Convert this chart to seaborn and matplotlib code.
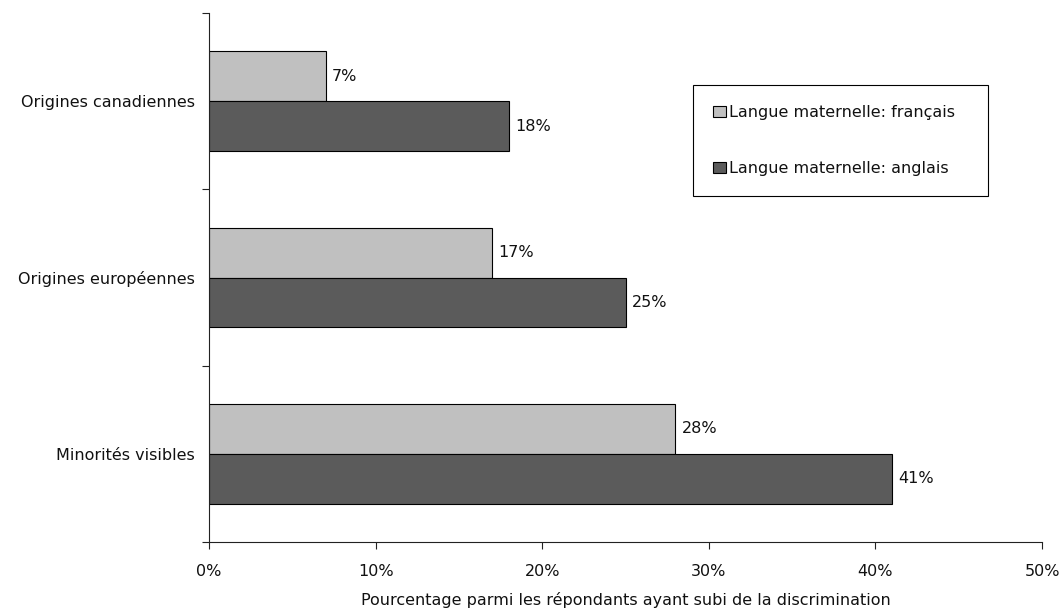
import matplotlib
matplotlib.use("Agg")
import matplotlib.pyplot as plt
import seaborn as sns
import pandas as pd
from matplotlib.ticker import FixedLocator, PercentFormatter

categories = ["Origines canadiennes", "Origines européennes", "Minorités visibles"]
series_names = ["Langue maternelle: français", "Langue maternelle: anglais"]
francais = [7, 17, 28]
anglais = [18, 25, 41]
x_ticks = [0, 10, 20, 30, 40, 50]
x_label = "Pourcentage parmi les répondants ayant subi de la discrimination"
colors = ["#C0C0C0", "#5B5B5B"]

df = pd.DataFrame({
    "categorie": categories * 2,
    "serie": [series_names[0]] * 3 + [series_names[1]] * 3,
    "valeur": francais + anglais,
})

sns.set_style("white")
plt.rcParams["font.family"] = ["DejaVu Sans"]
FS = 11.5
plt.rcParams.update({
    "font.size": FS,
    "text.color": "#111111",
    "axes.labelcolor": "#111111",
    "xtick.color": "#222222",
    "ytick.color": "#222222",
    "xtick.labelcolor": "#111111",
    "ytick.labelcolor": "#111111",
})

W, H = 1062, 610
fig = plt.figure(figsize=(W / 100, H / 100), dpi=100)
ax = fig.add_axes([209 / W, 1 - 542 / H, (1042 - 209) / W, (542 - 13) / H])

sns.barplot(data=df, x="valeur", y="categorie", hue="serie", order=categories,
            hue_order=series_names, palette=colors, orient="h", width=0.567,
            edgecolor="black", linewidth=0.8, saturation=1, ax=ax)

for cont in ax.containers:
    ax.bar_label(cont, labels=[f"{int(round(b.get_width()))}%" for b in cont],
                 padding=4.5, fontsize=FS, color="#111111")

ax.set_xlim(0, 50)
ax.set_ylim(2.5, -0.5)
ax.set_xticks(x_ticks)
ax.xaxis.set_major_formatter(PercentFormatter(decimals=0))
ax.set_xlabel(x_label, fontsize=FS, labelpad=9)
ax.set_ylabel("")

ax.tick_params(axis="x", direction="out", length=5, width=0.8,
               pad=11, labelsize=FS, bottom=True)
ax.tick_params(axis="y", which="major", length=0, pad=10, labelsize=FS, left=True)
ax.yaxis.set_minor_locator(FixedLocator([-0.5, 0.5, 1.5, 2.5]))
ax.tick_params(axis="y", which="minor", direction="out", length=5, width=0.8,
               left=True)

for s in ["top", "right"]:
    ax.spines[s].set_visible(False)
for s in ["left", "bottom"]:
    ax.spines[s].set_color("#222222")
    ax.spines[s].set_linewidth(0.8)

leg = ax.legend(loc="upper left", bbox_to_anchor=(693 / W, 1 - 193 / H, 295 / W, 108 / H),
                bbox_transform=fig.transFigure, mode="expand", borderaxespad=0,
                fancybox=False, edgecolor="black", framealpha=1, fontsize=FS,
                borderpad=1.25, labelspacing=2.55, handlelength=0.8, handleheight=0.7,
                handletextpad=0.2, title=None)
leg.get_frame().set_linewidth(0.8)

fig.savefig("out.png", dpi=100)
